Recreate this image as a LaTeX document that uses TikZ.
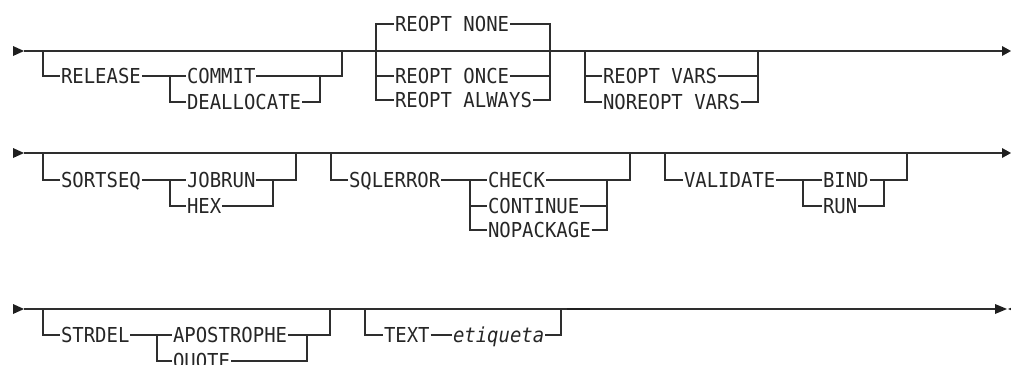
\documentclass[tikz,border=0pt]{standalone}
\usepackage{fontspec}
\newfontfamily\rr[FakeStretch=0.92]{DejaVu Sans Mono}
\begin{document}
\begin{tikzpicture}[x=1pt,y=-1pt,
  rail/.style={line width=1.2pt, draw=black!82},
  kw/.style={font=\rr\fontsize{20.6}{21}\selectfont, text=black!85, inner sep=0pt, outer sep=1pt, text height=15pt, text depth=0pt, anchor=west},
  tip/.style={fill=black!88}]
\useasboundingbox (0,0) rectangle (1011,364);
\clip (0,0) rectangle (1011,364);

% ---------- Row 1 ----------
\coordinate (s1) at (24,51);
\coordinate (e1) at (1002,51);
\fill[tip] (13,46) -- (s1) -- (13,56) -- cycle;
\fill[tip] (e1) ++(0,-5) -- (1011,51) -- (1002,56) -- cycle;
\draw[rail] (s1) -- (e1);

\node[kw] (release) at (60,76) {RELEASE};
\node[kw] (commit) at (186,76) {COMMIT};
\node[kw] (dealloc) at (186,102) {DEALLOCATE};
\draw[rail] (43,51) |- (release.west);
\draw[rail] (release.east) -- (commit.west);
\draw[rail] (170,76) |- (dealloc.west);
\draw[rail] (commit.east) -- (342,76) -- (342,51);
\draw[rail] (dealloc.east) -| (320,76);

\node[kw] (rnone) at (394,24) {REOPT NONE};
\node[kw] (ronce) at (394,76) {REOPT ONCE};
\node[kw] (ralways) at (394,100) {REOPT ALWAYS};
\draw[rail] (rnone.west) -| (376,100) -- (ralways.west);
\draw[rail] (376,76) -- (ronce.west);
\draw[rail] (rnone.east) -| (550,100) -- (ralways.east);
\draw[rail] (ronce.east) -- (550,76);

\node[kw] (rvars) at (602,76) {REOPT VARS};
\node[kw] (nrvars) at (602,102) {NOREOPT VARS};
\draw[rail] (585,51) |- (nrvars.west);
\draw[rail] (585,76) -- (rvars.west);
\draw[rail] (nrvars.east) -| (758,51);
\draw[rail] (rvars.east) -- (758,76);

% ---------- Row 2 ----------
\coordinate (s2) at (24,153);
\coordinate (e2) at (1002,153);
\fill[tip] (13,148) -- (s2) -- (13,158) -- cycle;
\fill[tip] (1002,148) -- (1011,153) -- (1002,158) -- cycle;
\draw[rail] (s2) -- (e2);

\node[kw] (sortseq) at (60,180) {SORTSEQ};
\node[kw] (jobrun) at (186,180) {JOBRUN};
\node[kw] (hex) at (186,206) {HEX};
\draw[rail] (43,153) |- (sortseq.west);
\draw[rail] (sortseq.east) -- (jobrun.west);
\draw[rail] (170,180) |- (hex.west);
\draw[rail] (jobrun.east) -- (296,180) -- (296,153);
\draw[rail] (hex.east) -| (273,180);

\node[kw] (sqlerr) at (348,180) {SQLERROR};
\node[kw] (check) at (487,180) {CHECK};
\node[kw] (continue) at (487,206) {CONTINUE};
\node[kw] (nopack) at (487,230) {NOPACKAGE};
\draw[rail] (331,153) |- (sqlerr.west);
\draw[rail] (sqlerr.east) -- (check.west);
\draw[rail] (470,180) |- (nopack.west);
\draw[rail] (470,206) -- (continue.west);
\draw[rail] (check.east) -- (630,180) -- (630,153);
\draw[rail] (nopack.east) -| (607,180);
\draw[rail] (continue.east) -- (607,206);

\node[kw] (validate) at (683,180) {VALIDATE};
\node[kw] (bind) at (822,180) {BIND};
\node[kw] (run) at (822,206) {RUN};
\draw[rail] (665,153) |- (validate.west);
\draw[rail] (validate.east) -- (bind.west);
\draw[rail] (803,180) |- (run.west);
\draw[rail] (bind.east) -- (907,180) -- (907,153);
\draw[rail] (run.east) -| (884,180);

% ---------- Row 3 ----------
\coordinate (s3) at (24,309);
\coordinate (e3) at (995,309);
\fill[tip] (13,304) -- (s3) -- (13,314) -- cycle;
\fill[tip] (995,304) -- (1007,309) -- (995,314) -- cycle;
\fill[tip] (1008,309) -- (1020,304) -- (1020,314) -- cycle;
\draw[rail] (s3) -- (e3);
\draw[line width=2.2pt, draw=black!88] (567,308.6) -- (590,308.6);

\node[kw] (strdel) at (60,335) {STRDEL};
\node[kw] (apos) at (172,335) {APOSTROPHE};
\node[kw] (quote) at (172,361) {QUOTE};
\draw[rail] (43,309) |- (strdel.west);
\draw[rail] (strdel.east) -- (apos.west);
\draw[rail] (157,335) |- (quote.west);
\draw[rail] (apos.east) -- (330,335) -- (330,309);
\draw[rail] (quote.east) -| (307,335);

\node[kw] (textkw) at (383,335) {TEXT};
\node[kw] (etiq) at (452,335) {\itshape etiqueta};
\draw[rail] (365,309) |- (textkw.west);
\draw[rail] (textkw.east) -- (etiq.west);
\draw[rail] (etiq.east) -| (561,309);
\end{tikzpicture}
\end{document}
